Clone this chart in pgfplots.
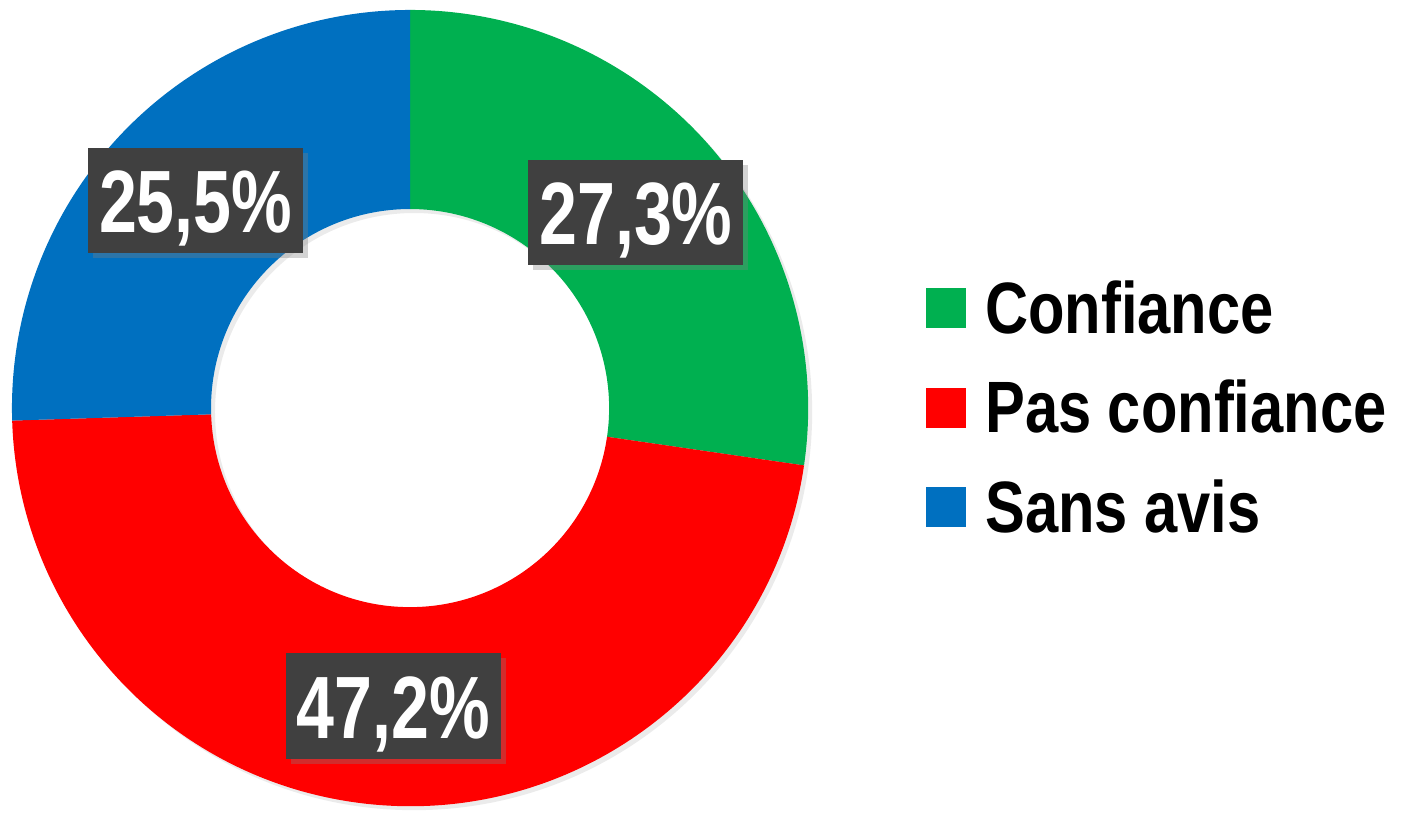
\documentclass[border=0pt]{standalone}
\usepackage{pgfplots}
\pgfplotsset{compat=1.18}
\usepackage{pgfplotstable}
\usepackage{fontspec}
\setmainfont{Liberation Sans}
\newfontfamily\labfont{Liberation Sans}[FakeStretch=0.77]
\newfontfamily\legfont{Liberation Sans}[FakeStretch=0.82]
\usetikzlibrary{shadows}

\definecolor{cgreen}{HTML}{00B050}
\definecolor{cred}{HTML}{FF0000}
\definecolor{cblue}{HTML}{0070C0}
\definecolor{boxgrey}{HTML}{404040}

% share of answers, in percent
\pgfplotstableread{
part value
Confiance 27.3
PasConfiance 47.2
SansAvis 25.5
}\donut

\pgfplotstablegetelem{0}{value}\of\donut \let\vA\pgfplotsretval
\pgfplotstablegetelem{1}{value}\of\donut \let\vB\pgfplotsretval
\pgfplotstablegetelem{2}{value}\of\donut \let\vC\pgfplotsretval
% wedges run clockwise from 12 o'clock
\pgfmathsetmacro\aA{90}
\pgfmathsetmacro\aB{\aA-3.6*\vA}
\pgfmathsetmacro\aC{\aB-3.6*\vB}
\pgfmathsetmacro\aD{\aC-3.6*\vC}
\pgfmathsetmacro\mA{(\aA+\aB)/2}
\pgfmathsetmacro\mB{(\aB+\aC)/2}
\pgfmathsetmacro\mC{(\aC+\aD)/2}

\tikzset{
  pctbox/.style={fill=boxgrey, text=white, font=\labfont\bfseries\fontsize{25.3}{30}\selectfont,
    minimum width=2.16cm, inner xsep=0pt, inner ysep=0.21cm, text height=0.64cm, text depth=0pt,
    drop shadow={shadow xshift=0.05cm, shadow yshift=-0.05cm, opacity=0.35}},
}
\newcommand{\pct}[1]{\pgfmathprintnumber[fixed, precision=1, fixed zerofill, use comma, assume math mode=true]{#1}\%}
% ring segment from angle #2 to #3, outer radius 4, inner radius 2
\newcommand{\segment}[3]{\fill[#1] (axis cs:0,0) ++(#2:4cm) arc[start angle=#2, end angle=#3, radius=4cm]
  -- ++(#3+180:2cm) arc[start angle=#3, end angle=#2, radius=2cm] -- cycle;}

\begin{document}
\begin{tikzpicture}
\begin{axis}[
    x=1cm, y=1cm,
    xmin=-4.12, xmax=9.95,
    ymin=-4.01, ymax=4.10,
    hide axis,
    clip=false,
    legend style={at={(axis cs:5.07,1.43)}, anchor=north west, draw=none, fill=none,
      font=\legfont\bfseries\fontsize{20.8}{25}\selectfont,
      row sep=0.3cm,
      nodes={inner xsep=0.1cm, inner ysep=0pt, text height=0.6cm, text depth=0.1cm}},
    legend cell align={left},
    legend image code/.code={\fill[#1] (0cm,-0.195cm) rectangle (0.39cm,0.195cm);
      \path[draw=none, fill=none] (0.39cm,0cm) -- (0.49cm,0cm);},
]
% fixes the picture's extent
\path (axis cs:-4.12,-4.01) rectangle (axis cs:9.95,4.10);
% faint shadow under the ring
\fill[black, opacity=0.08, even odd rule] (axis cs:0.04,-0.04) circle[radius=4cm] (axis cs:0.04,-0.04) circle[radius=2cm];

\segment{cgreen}{\aA}{\aB}
\segment{cred}{\aB}{\aC}
\segment{cblue}{\aC}{\aD}

\node[pctbox] at (axis cs:{3*cos(\mA)},{3*sin(\mA)}) {\pct{\vA}};
\node[pctbox] at (axis cs:{3*cos(\mB)},{3*sin(\mB)}) {\pct{\vB}};
\node[pctbox] at (axis cs:{3*cos(\mC)},{3*sin(\mC)}) {\pct{\vC}};

\addlegendimage{cgreen}
\addlegendentry{Confiance}
\addlegendimage{cred}
\addlegendentry{Pas confiance}
\addlegendimage{cblue}
\addlegendentry{Sans avis}
\end{axis}
\end{tikzpicture}
\end{document}
